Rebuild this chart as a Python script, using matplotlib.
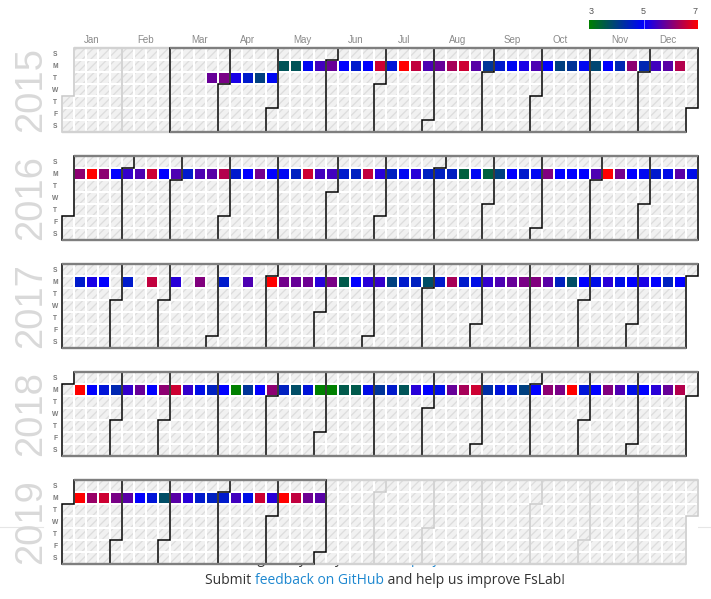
import datetime as dt
import numpy as np
import matplotlib
matplotlib.use('Agg')
import matplotlib.pyplot as plt
from matplotlib.colors import LinearSegmentedColormap, Normalize
from matplotlib.patches import Rectangle

nan = np.nan

years = [2015, 2016, 2017, 2018, 2019]
month_names = ['Jan', 'Feb', 'Mar', 'Apr', 'May', 'Jun',
               'Jul', 'Aug', 'Sep', 'Oct', 'Nov', 'Dec']
day_names = ['S', 'M', 'T', 'W', 'T', 'F', 'S']
legend_ticks = [3, 5, 7]

# weekly values (one per week from the start date, nan = no value)
tue_2015 = [5.8, 5.95, 5.2, 4.6, 4.0, 4.9]
mon_2015 = [3.7, 3.7, 4.9, 5.5, 5.8, 5.0, 4.6, 5.0, 6.6, 4.7,
            7.0, 6.5, 5.6, 5.8, 6.3, 6.6, 5.7, 4.2, 4.6, 4.9,
            5.2, 5.6, 5.0, 4.0, 4.2, 4.9, 3.9, 5.0, 4.4, 6.1,
            4.4, 5.5, 5.7, 6.4]
mon_2016 = [6.1, 7.0, 6.1, 5.0, 5.4, 5.6, 6.6, 5.0, 5.6, 4.6,
            5.6, 5.7, 6.4, 4.6, 5.0, 5.9, 5.0, 4.9, 4.5, 6.6,
            5.5, 5.5, 4.6, 4.5, 6.5, 5.3, 4.5, 4.9, 5.3, 4.5,
            4.5, 4.5, 3.5, 4.9, 3.5, 4.0, 5.0, 4.6, 4.9, 6.0,
            5.0, 5.0, 5.0, 5.6, 7.0, 5.9, 5.0, 4.9, 4.6, 4.8,
            5.7, 4.8]
mon_2017 = [4.6, 5.2, 5.0, nan, 4.6, nan, 6.5, nan, 5.3, nan,
            6.0, nan, 4.6, nan, 5.6, nan, 7.0, 5.9, 5.8, 5.85,
            5.3, 5.95, 3.6, 5.0, 5.3, 5.4, 4.0, 4.6, 4.5, 3.8,
            4.6, 6.3, 4.6, 4.8, 5.4, 5.6, 5.8, 5.95, 6.0, 5.7,
            4.5, 3.8, 5.0, 4.8, 5.3, 4.8, 5.0, 5.2, 5.0, 4.5,
            5.0]
mon_2018 = [7.0, 5.0, 4.7, 4.4, 5.4, 5.8, 5.0, 6.1, 6.6, 5.4,
            4.8, 4.5, 5.0, 3.0, 4.2, 5.0, 6.1, 4.5, 3.8, 4.7,
            3.0, 3.0, 3.6, 3.6, 4.8, 4.2, 4.6, 3.7, 5.3, 5.0,
            4.8, 5.8, 6.3, 6.6, 4.3, 4.7, 4.7, 4.0, 5.0, 6.1,
            5.95, 7.0, 4.7, 5.0, 6.0, 5.6, 4.8, 5.0, 5.3, 5.8,
            6.4]
mon_2019 = [7.0, 6.2, 6.6, 5.95, 5.7, 5.0, 4.7, 3.8, 5.7, 5.3,
            4.6, 4.5, 4.6, 5.5, 4.8, 6.6, 5.3, 7.0, 6.5, 5.85,
            5.7]

series = [
    (dt.date(2015, 3, 24), tue_2015),
    (dt.date(2015, 5, 4), mon_2015),
    (dt.date(2016, 1, 4), mon_2016),
    (dt.date(2017, 1, 9), mon_2017),
    (dt.date(2018, 1, 8), mon_2018),
    (dt.date(2019, 1, 7), mon_2019),
]

values = {}
for start, vals in series:
    for i, v in enumerate(vals):
        if not np.isnan(v):
            values[start + dt.timedelta(weeks=i)] = v
months_with_data = {(d.year, d.month) for d in values}

W, H = 711, 599
LEFT, TOP0, STEP = 62, 48, 108
CELL = 12

plt.rcParams['font.family'] = ['Liberation Sans', 'DejaVu Sans']
plt.rcParams['hatch.linewidth'] = 0.9

cmap = LinearSegmentedColormap.from_list('gbr', ['#008000', '#0000ff', '#ff0000'])
norm = Normalize(3, 7)

fig = plt.figure(figsize=(W / 100, H / 100), dpi=100)


def fx(px):
    return px / W


def fy(py):
    return 1 - py / H


# page stuff behind the chart
fig.add_artist(plt.Line2D([0, fx(43)], [fy(527), fy(527)], color='#e6e6e6', lw=0.8, zorder=-2))
fig.add_artist(plt.Line2D([fx(698), 1], [fy(527), fy(527)], color='#e6e6e6', lw=0.8, zorder=-2))


def draw_pieces(pieces, xc, y, zorder=3):
    r = fig.canvas.get_renderer()
    items = []
    for s, c in pieces:
        t = fig.text(0, fy(y), s, color=c, fontsize=10, family='Open Sans',
                     va='baseline', ha='left', zorder=zorder)
        items.append((t, t.get_window_extent(r).width))
    total = sum(w for _, w in items)
    x = xc - total / 2
    for t, w in items:
        t.set_x(fx(x))
        x += w


draw_pieces([('Brought to you by the ', '#333333'), ('FsLab project contributors', '#1e88d0')],
            383, 563, zorder=-1)
draw_pieces([('Submit ', '#333333'), ('feedback on GitHub', '#1e88d0'),
             (' and help us improve FsLab!', '#333333')], 385, 584)


def boundary(c, r):
    if r == 0:
        return [c, c], [0, 7]
    return [c + 1, c + 1, c, c], [0, r, r, 7]


g = 0.05
for k, year in enumerate(years):
    top = TOP0 + STEP * k
    ax = fig.add_axes([fx(LEFT), fy(top + 7 * CELL), 53 * CELL / W, 7 * CELL / H])
    ax.set_xlim(0, 53)
    ax.set_ylim(7, 0)
    ax.set_xticks([])
    ax.set_yticks([])
    for s in ax.spines.values():
        s.set_visible(False)
    ax.set_facecolor('white')

    jan1 = dt.date(year, 1, 1)
    off = (jan1.weekday() + 1) % 7
    ndays = (dt.date(year + 1, 1, 1) - jan1).days

    def pos(d):
        return (d + off) // 7, (d + off) % 7

    for d in range(ndays):
        day = jan1 + dt.timedelta(days=d)
        c, r = pos(d)
        if day in values:
            ax.add_patch(Rectangle((c + g, r + g), 1 - 2 * g, 1 - 2 * g,
                                   facecolor=cmap(norm(values[day])), lw=0))
        else:
            ax.add_patch(Rectangle((c + g, r + g), 1 - 2 * g, 1 - 2 * g,
                                   facecolor='#f1f1f1', edgecolor='#dcdcdc',
                                   hatch='////', lw=0))

    # month starts (and the day after the year)
    starts = [(dt.date(year, m, 1) - jan1).days for m in range(1, 13)] + [ndays]
    for b in range(13):
        before = (year, b) in months_with_data
        after = (year, b + 1) in months_with_data
        dark = before or after
        xs, ys = boundary(*pos(starts[b]))
        ax.plot(xs, ys, color='black' if dark else '#c8c8c8', lw=1.1,
                zorder=4 if dark else 3, clip_on=False, solid_joinstyle='miter')

    # top and bottom outline per month
    for m in range(12):
        cs, rs = pos(starts[m])
        ce, re_ = pos(starts[m + 1] - 1)
        has = (year, m + 1) in months_with_data
        col = '#7f7f7f' if has else '#d2d2d2'
        z = 5 if has else 3
        x0 = cs if rs == 0 else cs + 1
        ax.plot([x0, ce + 1], [0, 0], color=col, lw=1.7, zorder=z, clip_on=False,
                solid_capstyle='butt')
        x1 = ce + 1 if re_ == 6 else ce
        ax.plot([cs, x1], [7, 7], color=col, lw=1.7, zorder=z, clip_on=False,
                solid_capstyle='butt')

    for r, name in enumerate(day_names):
        ax.text(-0.55, r + 0.5, name, ha='center', va='center', fontsize=4.8,
                fontweight='bold', color='#7a7a7a', clip_on=False)
    ax.text(-2.55, 3.5, str(year), rotation=90, ha='center', va='center',
            fontsize=27.5, color='#d9d9d9', clip_on=False)

    if k == 0:
        for m in range(12):
            cs, _ = pos(starts[m])
            ce, _ = pos(starts[m + 1] - 1)
            ax.text((cs + ce + 1) / 2, -0.65, month_names[m], ha='center',
                    va='center', fontsize=7, color='#8a8a8a', clip_on=False)

# colour legend
lax = fig.add_axes([fx(589), fy(29), 109 / W, 9 / H])
grad = np.linspace(3, 7, 256).reshape(1, -1)
lax.imshow(grad, cmap=cmap, norm=norm, aspect='auto', extent=[3, 7, 0, 1])
lax.axvline(5, color='white', lw=0.6, alpha=0.6)
lax.set_xticks([])
lax.set_yticks([])
for s in lax.spines.values():
    s.set_visible(False)
for v, ha in zip(legend_ticks, ['left', 'center', 'right']):
    x = 589 + (v - 3) / 4 * 109
    fig.text(fx(x), fy(12), str(v), ha=ha, va='center', fontsize=6.5, color='#555555')

fig.savefig('out.png', dpi=100)
